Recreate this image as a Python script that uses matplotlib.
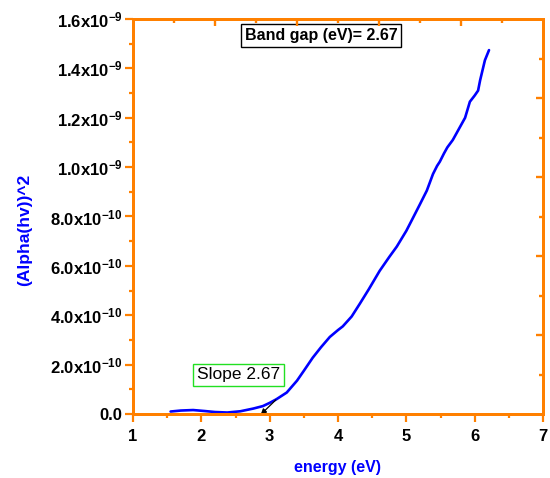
import matplotlib
matplotlib.use("Agg")
import matplotlib.pyplot as plt
from matplotlib.ticker import MultipleLocator, FixedLocator, FixedFormatter

plt.rcParams['font.family'] = ['Liberation Sans', 'DejaVu Sans']
plt.rcParams['mathtext.fontset'] = 'custom'
plt.rcParams['mathtext.rm'] = 'Liberation Sans'
plt.rcParams['mathtext.bf'] = 'Liberation Sans:bold'
plt.rcParams['mathtext.it'] = 'Liberation Sans:italic'

# data: photon energy (eV) and (alpha*h*nu)^2 in units of 1e-9
energy = [1.55, 1.70, 1.88, 2.05, 2.20, 2.38, 2.57, 2.76, 2.90, 3.00, 3.10, 3.25,
          3.40, 3.50, 3.63, 3.75, 3.88, 4.00, 4.07, 4.20, 4.32, 4.45, 4.61, 4.75,
          4.86, 5.00, 5.08, 5.20, 5.30, 5.39, 5.45, 5.49, 5.55, 5.60, 5.68, 5.76,
          5.86, 5.93, 6.00, 6.05, 6.08, 6.15, 6.21]
alpha_sq_e9 = [0.010, 0.014, 0.016, 0.012, 0.008, 0.006, 0.011, 0.022, 0.032, 0.045,
               0.060, 0.087, 0.135, 0.175, 0.228, 0.270, 0.312, 0.340, 0.355, 0.395,
               0.447, 0.505, 0.580, 0.636, 0.678, 0.742, 0.785, 0.850, 0.905, 0.972,
               1.005, 1.022, 1.055, 1.080, 1.110, 1.150, 1.200, 1.265, 1.290, 1.310,
               1.352, 1.433, 1.474]

x_ticks = [1, 2, 3, 4, 5, 6, 7]
y_ticks_e9 = [0.0, 0.2, 0.4, 0.6, 0.8, 1.0, 1.2, 1.4, 1.6]
y_tick_labels = ['0.0',
                 r'2.0x10$^{\mathbf{-10}}$', r'4.0x10$^{\mathbf{-10}}$',
                 r'6.0x10$^{\mathbf{-10}}$', r'8.0x10$^{\mathbf{-10}}$',
                 r'1.0x10$^{\mathbf{-9}}$', r'1.2x10$^{\mathbf{-9}}$',
                 r'1.4x10$^{\mathbf{-9}}$', r'1.6x10$^{\mathbf{-9}}$']
band_gap = 2.67
slope_text = 'Slope 2.67'

orange = '#FF8000'
blue = '#0000FF'

fig = plt.figure(figsize=(5.5, 4.78), dpi=100)
pos = [133/550, 64/478, 410/550, 395/478]
ax = fig.add_axes(pos)

y_vals = [v * 1e-9 for v in alpha_sq_e9]
ax.plot(energy, y_vals, color=blue, lw=1.9, solid_capstyle='round')

ax.set_xlim(1, 7)
ax.set_ylim(0, 1.6e-9)
ax.xaxis.set_major_locator(FixedLocator(x_ticks))
ax.xaxis.set_minor_locator(MultipleLocator(0.5))
ax.yaxis.set_major_locator(FixedLocator([v * 1e-9 for v in y_ticks_e9]))
ax.yaxis.set_major_formatter(FixedFormatter(y_tick_labels))
ax.yaxis.set_minor_locator(MultipleLocator(0.1e-9))
ax.yaxis.get_offset_text().set_visible(False)

for s in ax.spines.values():
    s.set_color(orange)
    s.set_linewidth(2.0)
ax.tick_params(which='both', direction='out', color=orange, width=1.6,
               top=False, right=False)
ax.tick_params(which='major', length=5.5)
ax.tick_params(which='minor', length=3)
ax.tick_params(axis='x', which='major', pad=5)
ax.tick_params(axis='y', which='major', pad=2)
for lab in ax.get_xticklabels() + ax.get_yticklabels():
    lab.set_fontweight('bold')
    lab.set_fontsize(12)

ax.set_xlabel('energy (eV)', color=blue, fontweight='bold', fontsize=11.5, labelpad=12)
ax.set_ylabel('(Alpha(hv))^2', color=blue, fontweight='bold', fontsize=12.5)
ax.yaxis.set_label_coords(-0.245, 0.466)

# mirrored top/right ticks (inward), on a 0..1 fraction scale
mirror_major = [0.2, 0.4, 0.6, 0.8]
mirror_minor = [0.1, 0.3, 0.5, 0.7, 0.9]
axt = ax.twiny()
axt.set_xlim(0, 1)
axt.set_xticks(mirror_major)
axt.set_xticks(mirror_minor, minor=True)
axt.set_xticklabels([])
axt.tick_params(axis='x', which='both', direction='in', colors=orange, width=1.7,
                top=True, bottom=False, labeltop=False)
axt.tick_params(axis='x', which='major', length=5.2)
axt.tick_params(axis='x', which='minor', length=3.2)
axr = ax.twinx()
axr.set_ylim(0, 1)
axr.set_yticks(mirror_major)
axr.set_yticks(mirror_minor, minor=True)
axr.set_yticklabels([])
axr.tick_params(axis='y', which='both', direction='in', colors=orange, width=1.7,
                right=True, left=False, labelright=False)
axr.tick_params(axis='y', which='major', length=5.2)
axr.tick_params(axis='y', which='minor', length=3.2)
for a in (axt, axr):
    for s in a.spines.values():
        s.set_color(orange)
        s.set_linewidth(2.0)

ax.text(3.75, 1.534e-9, f'Band gap (eV)= {band_gap}', ha='center', va='center',
        fontsize=11.5, fontweight='bold', zorder=5,
        bbox=dict(boxstyle='square,pad=0.25', facecolor='white', edgecolor='black', lw=1))
ax.text(2.54, 0.158e-9, slope_text, ha='center', va='center', fontsize=12.5, zorder=5,
        bbox=dict(boxstyle='square,pad=0.22', facecolor='white', edgecolor='#22E022', lw=1))
ax.annotate('', xy=(2.84, -0.01e-9), xytext=(3.12, 0.065e-9),
            arrowprops=dict(arrowstyle='-|>', color='black', lw=0.9, mutation_scale=8),
            annotation_clip=False)

fig.savefig('out.png', dpi=100)
